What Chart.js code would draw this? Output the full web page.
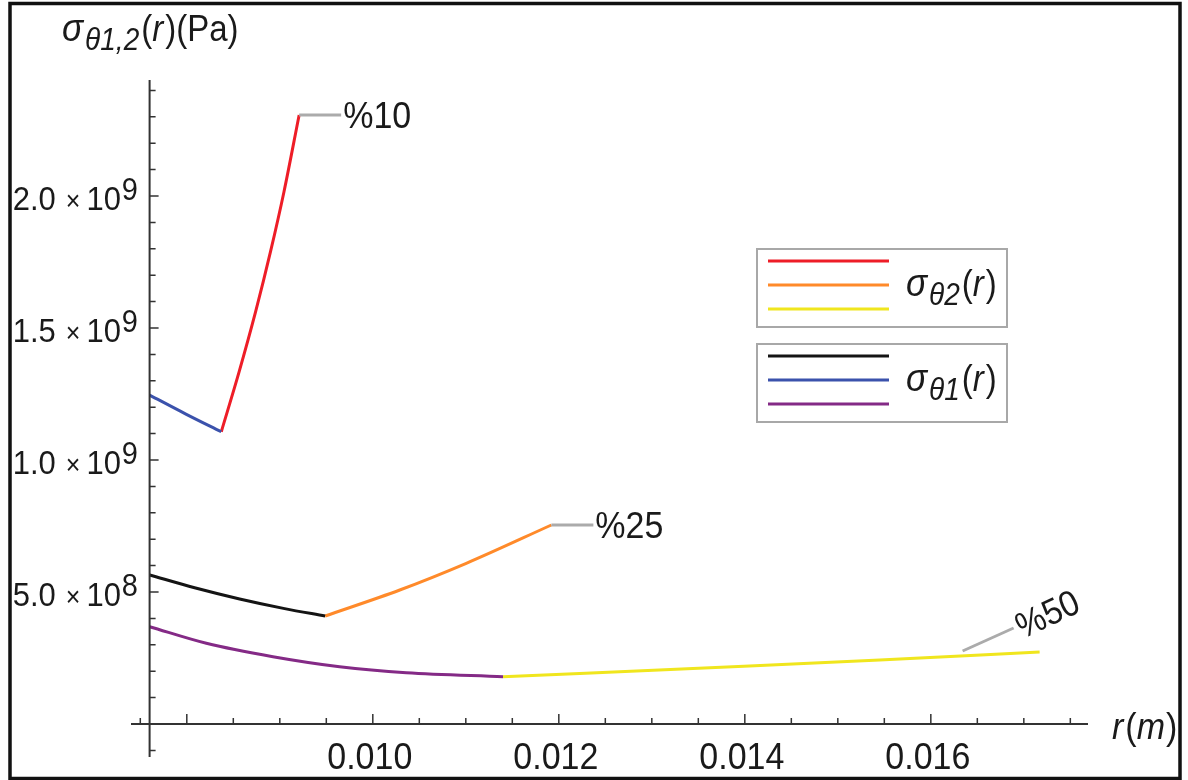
<!DOCTYPE html>
<html>
<head>
<meta charset="utf-8">
<script src="https://cdn.jsdelivr.net/npm/chart.js@4.4.0/dist/chart.umd.min.js"></script>
<style>
    html, body { margin: 0; padding: 0; background: #fff; }
    #wrap { width: 1188px; height: 780px; }
</style>
</head>
<body>
<div id="wrap"><canvas id="stressChart" width="1188" height="780"></canvas></div>
<script>
// sigma_theta1 (inner part) and sigma_theta2 (outer part) for 10 / 25 / 50 %
const r1_10 = [0.0076, 0.00799, 0.00837];
const s1_10 = [1.246e9, 1.174e9, 1.107e9];
const r2_10 = [0.008371, 0.008563, 0.00874, 0.0089, 0.009045, 0.009208];
const s2_10 = [1.107e9, 1.3345e9, 1.5617e9, 1.789e9, 2.0163e9, 2.307e9];

const r1_25 = [0.0076, 0.008084, 0.008568, 0.009052, 0.009487];
const s1_25 = [0.5644e9, 0.5162e9, 0.4737e9, 0.4371e9, 0.4091e9];
const r2_25 = [0.009487, 0.01029, 0.011005, 0.01192];
const s2_25 = [0.4091e9, 0.5076e9, 0.6087e9, 0.7538e9];

const r1_50 = [0.0076, 0.00821, 0.008926, 0.009643, 0.01036, 0.0114];
const s1_50 = [0.3686e9, 0.3057e9, 0.255e9, 0.217e9, 0.194e9, 0.179e9];
const r2_50 = [0.0114, 0.01405, 0.01545, 0.01717];
const s2_50 = [0.179e9, 0.2197e9, 0.2424e9, 0.2727e9];

const percentLabels = ['%10', '%25', '%50'];

// axis ticks
const xLabelTicks = [0.010, 0.012, 0.014, 0.016];
const xTickLabels = ['0.010', '0.012', '0.014', '0.016'];
const xMajorTicks = [0.008, 0.010, 0.012, 0.014, 0.016];
const xMinorTicks = [0.0075, 0.0085, 0.009, 0.0095, 0.0105, 0.011, 0.0115, 0.0125, 0.013, 0.0135,
                     0.0145, 0.015, 0.0155, 0.0165, 0.017, 0.0175];
const yLabelTicks = [5e8, 1e9, 1.5e9, 2e9];
const yTickMantissa = ['5.0', '1.0', '1.5', '2.0'];
const yTickExponent = ['8', '9', '9', '9'];
const yMinorTicks = [-1e8, 1e8, 2e8, 3e8, 4e8, 6e8, 7e8, 8e8, 9e8, 1.1e9, 1.2e9, 1.3e9, 1.4e9,
                     1.6e9, 1.7e9, 1.8e9, 1.9e9, 2.1e9, 2.2e9, 2.3e9, 2.4e9];

const X_ORIGIN = 0.0076;
const FONT = "'Liberation Sans', Arial, sans-serif";
const SY = 1.1; // the original picture is a little stretched vertically

const colors = {
    red: '#ee1d27', orange: '#ff8a2a', yellow: '#f0e61e',
    black: '#141414', blue: '#3b52ac', purple: '#842a86'
};

const toPts = (xs, ys) => xs.map((x, i) => ({ x: x, y: ys[i] }));

const mkSet = (label, xs, ys, color) => ({
    label: label,
    data: toPts(xs, ys),
    borderColor: color,
    borderWidth: 3,
    showLine: true,
    pointRadius: 0,
    cubicInterpolationMode: 'monotone',
    fill: false
});

// draws a run of text pieces (italic, sub/superscripts) with the vertical stretch
function richText(ctx, parts, x, y, align) {
    let total = 0;
    parts.forEach(p => {
        ctx.font = (p.italic ? 'italic ' : '') + p.size + 'px ' + FONT;
        p.w = ctx.measureText(p.t).width + (p.gap || 0);
        total += p.w;
    });
    let cx = align === 'right' ? x - total : align === 'center' ? x - total / 2 : x;
    ctx.save();
    ctx.translate(0, y);
    ctx.scale(1, SY);
    ctx.textBaseline = 'alphabetic';
    ctx.textAlign = 'left';
    parts.forEach(p => {
        ctx.font = (p.italic ? 'italic ' : '') + p.size + 'px ' + FONT;
        ctx.fillStyle = p.color || '#1a1a1a';
        ctx.fillText(p.t, cx, (p.dy || 0) / SY);
        cx += p.w;
    });
    ctx.restore();
}

const sigmaParts = (sub, big, small) => [
    { t: '\u03c3', size: big + 2, italic: true, gap: 2 },
    { t: sub, size: small, italic: true, dy: 9, gap: 2 },
    { t: '(', size: big },
    { t: 'r', size: big, italic: true, gap: 2 },
    { t: ')', size: big }
];

const mathPlugin = {
    id: 'mathAxes',
    afterDatasetsDraw(chart) {
        const ctx = chart.ctx;
        const xs = chart.scales.x, ys = chart.scales.y;
        const ox = xs.getPixelForValue(X_ORIGIN);
        const oy = ys.getPixelForValue(0);

        ctx.save();
        // axis lines
        ctx.strokeStyle = '#333';
        ctx.lineWidth = 2;
        ctx.beginPath();
        ctx.moveTo(xs.left, oy); ctx.lineTo(xs.right, oy);
        ctx.moveTo(ox, ys.top); ctx.lineTo(ox, ys.bottom);
        ctx.stroke();

        // ticks pointing into the plot
        ctx.lineWidth = 1.5;
        ctx.beginPath();
        xMajorTicks.forEach(v => { const p = xs.getPixelForValue(v); ctx.moveTo(p, oy); ctx.lineTo(p, oy - 10); });
        xMinorTicks.forEach(v => { const p = xs.getPixelForValue(v); ctx.moveTo(p, oy); ctx.lineTo(p, oy - 6); });
        yLabelTicks.forEach(v => { const p = ys.getPixelForValue(v); ctx.moveTo(ox, p); ctx.lineTo(ox + 9, p); });
        yMinorTicks.forEach(v => { const p = ys.getPixelForValue(v); ctx.moveTo(ox, p); ctx.lineTo(ox + 6, p); });
        ctx.stroke();

        // tick labels
        xLabelTicks.forEach((v, i) => {
            richText(ctx, [{ t: xTickLabels[i], size: 34 }], xs.getPixelForValue(v) - 3, oy + 45, 'center');
        });
        yLabelTicks.forEach((v, i) => {
            const p = ys.getPixelForValue(v);
            richText(ctx, [
                { t: yTickMantissa[i], size: 31, gap: 10 },
                { t: '\u00d7', size: 25, gap: 6 },
                { t: '10', size: 31, gap: 1 },
                { t: yTickExponent[i], size: 29, dy: -10 }
            ], 138, p + 14, 'right');
        });

        // axis titles
        const title = sigmaParts('\u03b81,2', 33, 28);
        title.push({ t: '(Pa)', size: 33 });
        richText(ctx, title, 62, 41, 'left');
        richText(ctx, [
            { t: 'r', size: 34, italic: true, gap: 2 },
            { t: '(', size: 34 },
            { t: 'm', size: 34, italic: true, gap: 1 },
            { t: ')', size: 34 }
        ], 1112, 739, 'left');

        // percentage call-outs at the ends of the outer curves
        const ends = [[r2_10, s2_10], [r2_25, s2_25], [r2_50, s2_50]];
        ctx.strokeStyle = '#ababab';
        ctx.lineWidth = 3;
        ends.forEach((e, i) => {
            const n = e[0].length - 1;
            const px = xs.getPixelForValue(e[0][n]);
            const py = ys.getPixelForValue(e[1][n]);
            ctx.beginPath();
            if (i < 2) {
                ctx.moveTo(px, py); ctx.lineTo(px + 42, py);
                ctx.stroke();
                richText(ctx, [{ t: percentLabels[i], size: 34 }], px + 44, py + 13, 'left');
            } else {
                const lx = px - 77, ly = py - 1;
                ctx.moveTo(lx, ly); ctx.lineTo(lx + 51, ly - 23);
                ctx.stroke();
                ctx.save();
                ctx.translate(lx + 60, ly - 12);
                ctx.rotate(-0.44);
                richText(ctx, [{ t: percentLabels[i], size: 33 }], 0, 0, 'left');
                ctx.restore();
            }
        });

        // legend boxes
        const groups = [
            { top: 249, cols: [colors.red, colors.orange, colors.yellow], sub: '\u03b82' },
            { top: 344, cols: [colors.black, colors.blue, colors.purple], sub: '\u03b81' }
        ];
        groups.forEach(g => {
            ctx.strokeStyle = '#a8a8a8';
            ctx.lineWidth = 2;
            ctx.strokeRect(757, g.top, 250, 78);
            ctx.lineWidth = 3;
            g.cols.forEach((c, k) => {
                ctx.strokeStyle = c;
                ctx.beginPath();
                ctx.moveTo(768, g.top + 12 + k * 24);
                ctx.lineTo(889, g.top + 12 + k * 24);
                ctx.stroke();
            });
            richText(ctx, sigmaParts(g.sub, 33, 28), 906, g.top + 47, 'left');
        });

        // picture frame
        ctx.strokeStyle = '#111';
        ctx.lineWidth = 3.5;
        ctx.strokeRect(10, 3.5, 1170, 775);
        ctx.restore();
    }
};

new Chart(document.getElementById('stressChart'), {
    type: 'scatter',
    data: {
        datasets: [
            mkSet('sigma1 10%', r1_10, s1_10, colors.blue),
            mkSet('sigma2 10%', r2_10, s2_10, colors.red),
            mkSet('sigma1 25%', r1_25, s1_25, colors.black),
            mkSet('sigma2 25%', r2_25, s2_25, colors.orange),
            mkSet('sigma1 50%', r1_50, s1_50, colors.purple),
            mkSet('sigma2 50%', r2_50, s2_50, colors.yellow)
        ]
    },
    options: {
        responsive: false,
        animation: false,
        layout: { padding: { left: 131, right: 100, top: 80, bottom: 23 } },
        plugins: { legend: { display: false }, tooltip: { enabled: false } },
        scales: {
            x: { type: 'linear', display: false, min: 0.0074, max: 0.01769 },
            y: { type: 'linear', display: false, min: -1.25e8, max: 2.4394e9 }
        }
    },
    plugins: [mathPlugin]
});
</script>
</body>
</html>
